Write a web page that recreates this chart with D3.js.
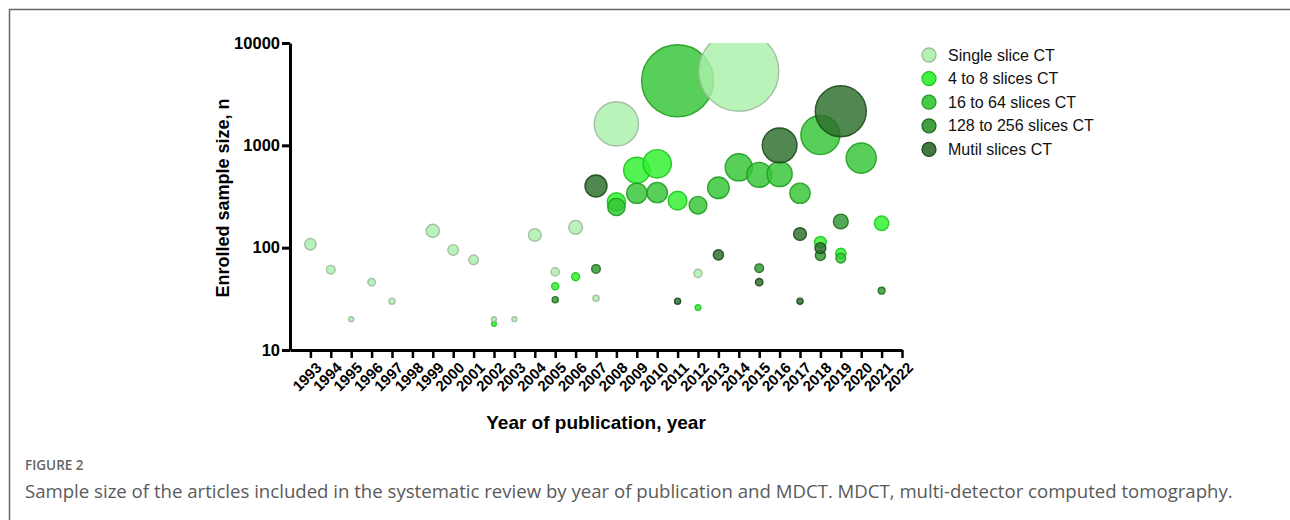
<!DOCTYPE html>
<html>
<head>
<meta charset="utf-8">
<script src="https://cdn.jsdelivr.net/npm/d3@7"></script>
<style>
  html, body { margin: 0; padding: 0; background: #fff; }
  #container { width: 1290px; height: 520px; }
</style>
</head>
<body>
<div id="container"></div>
<script>
/* CONSTANTS AND DATA */
const width = 1290;
const height = 520;

const tickYears = d3.range(1993, 2023);
const yTicks = [10, 100, 1000, 10000];

const seriesNames = ["Single slice CT", "4 to 8 slices CT", "16 to 64 slices CT", "128 to 256 slices CT", "Mutil slices CT"];

// Single slice CT
const singleYears = [1993, 1994, 1995, 1996, 1997, 1999, 2000, 2001, 2002, 2003, 2004, 2005, 2006, 2007, 2008, 2012, 2014];
const singleN = [108, 61, 20, 46, 30, 146, 95, 76, 20, 20, 133, 58, 158, 32, 1620, 56, 5300];

// 4 to 8 slices CT
const fourYears = [2002, 2005, 2006, 2008, 2009, 2010, 2011, 2012, 2018, 2019, 2021];
const fourN = [18, 42, 52, 280, 570, 660, 288, 26, 113, 88, 173];

// 16 to 64 slices CT
const sixteenYears = [2008, 2009, 2010, 2011, 2012, 2013, 2014, 2015, 2016, 2017, 2018, 2019, 2020];
const sixteenN = [250, 340, 345, 4280, 260, 385, 610, 515, 525, 340, 1260, 79, 750];

// 128 to 256 slices CT
const highYears = [2005, 2007, 2015, 2018, 2019, 2021];
const highN = [31, 62, 63, 84, 180, 38];

// Mutil slices CT
const mutilYears = [2007, 2011, 2013, 2015, 2016, 2017, 2017, 2018, 2019];
const mutilN = [400, 30, 85, 46, 1000, 136, 30, 99, 2150];

const fills = ["#a9f0a9", "#2cf02c", "#33c433", "#2f952f", "#2b6c2b"];
const strokes = ["#a0b9a0", "#1fc41f", "#1f9f1f", "#1d6f1d", "#1c4a1c"];

// draw order: single slice sits on top of the others
const drawOrder = [1, 2, 3, 4, 0];
const seriesYears = [singleYears, fourYears, sixteenYears, highYears, mutilYears];
const seriesN = [singleN, fourN, sixteenN, highN, mutilN];

/* SCALES */
const xScale = d3.scaleLinear().domain([1992, 2022]).range([290, 902]);
const yScale = d3.scaleLog().domain([10, 10000]).range([350, 43]);
const rScale = d3.scaleSqrt().domain([0, 10000]).range([0, 55]);

const font = "'Liberation Sans', Arial, sans-serif";

/* SVG */
const svg = d3.select("#container")
  .append("svg")
  .attr("width", width)
  .attr("height", height)
  .style("font-family", font);

// figure frame
svg.append("path")
  .attr("d", `M9.5,${height} V9.5 H${width}`)
  .attr("fill", "none")
  .attr("stroke", "#666")
  .attr("stroke-width", 1.5);

svg.append("clipPath")
  .attr("id", "plot-clip")
  .append("rect")
  .attr("x", 290).attr("y", 43)
  .attr("width", 640).attr("height", 310);

/* BUBBLES */
const plot = svg.append("g").attr("clip-path", "url(#plot-clip)");

drawOrder.forEach(s => {
  const pts = seriesYears[s].map((yr, i) => ({ year: yr, n: seriesN[s][i] }));
  plot.selectAll(".dot-" + s)
    .data(pts)
    .enter()
    .append("circle")
    .attr("class", "dot-" + s)
    .attr("cx", d => xScale(d.year))
    .attr("cy", d => yScale(d.n))
    .attr("r", d => rScale(d.n))
    .attr("fill", fills[s])
    .attr("fill-opacity", 0.82)
    .attr("stroke", strokes[s])
    .attr("stroke-opacity", 0.9)
    .attr("stroke-width", 1.4);
});

/* AXES */
const yAxis = svg.append("g")
  .attr("transform", "translate(290,0)")
  .call(d3.axisLeft(yScale).tickValues(yTicks).tickFormat(d3.format("d")).tickSize(8).tickSizeOuter(0));

yAxis.selectAll("path, line").attr("stroke", "#000").attr("stroke-width", 3);
yAxis.selectAll("text")
  .attr("x", -10)
  .style("font-family", font)
  .style("font-size", "16.5px")
  .style("font-weight", "bold")
  .attr("fill", "#000");

const xAxis = svg.append("g")
  .attr("transform", "translate(0,350)")
  .call(d3.axisBottom(xScale).tickValues(tickYears).tickFormat(d3.format("d")).tickSize(8).tickSizeOuter(0));

xAxis.selectAll("path, line").attr("stroke", "#000").attr("stroke-width", 2.5);
xAxis.select("path").attr("stroke-width", 3);
xAxis.selectAll("text")
  .attr("x", 0).attr("y", 0).attr("dy", "0.35em")
  .attr("transform", "translate(8,15) rotate(-45)")
  .attr("text-anchor", "end")
  .style("font-family", font)
  .style("font-size", "15px")
  .style("font-weight", "bold")
  .attr("fill", "#000");

/* AXIS TITLES */
svg.append("text")
  .attr("transform", "translate(229,198) rotate(-90)")
  .attr("text-anchor", "middle")
  .style("font-size", "18px")
  .style("font-weight", "bold")
  .text("Enrolled sample size, n");

svg.append("text")
  .attr("x", 596)
  .attr("y", 429)
  .attr("text-anchor", "middle")
  .style("font-size", "19px")
  .style("font-weight", "bold")
  .text("Year of publication, year");

/* LEGEND */
const legend = svg.append("g").attr("transform", "translate(929,55)");

seriesNames.forEach((name, i) => {
  const row = legend.append("g").attr("transform", `translate(0,${i * 23.6})`);
  row.append("circle")
    .attr("r", 7)
    .attr("fill", fills[i])
    .attr("fill-opacity", 0.9)
    .attr("stroke", strokes[i])
    .attr("stroke-width", 1.3);
  row.append("text")
    .attr("x", 19)
    .attr("dy", "0.35em")
    .style("font-size", "16px")
    .attr("fill", "#111")
    .text(name);
});

/* CAPTION */
svg.append("text")
  .attr("x", 25)
  .attr("y", 470)
  .style("font-family", "'Open Sans', sans-serif")
  .style("font-size", "13.5px")
  .style("font-weight", "600")
  .attr("fill", "#666")
  .text("FIGURE 2");

svg.append("text")
  .attr("x", 25)
  .attr("y", 498)
  .style("font-family", "'Open Sans', sans-serif")
  .style("font-size", "18.6px")
  .attr("fill", "#5a5a5a")
  .text("Sample size of the articles included in the systematic review by year of publication and MDCT. MDCT, multi-detector computed tomography.");
</script>
</body>
</html>
